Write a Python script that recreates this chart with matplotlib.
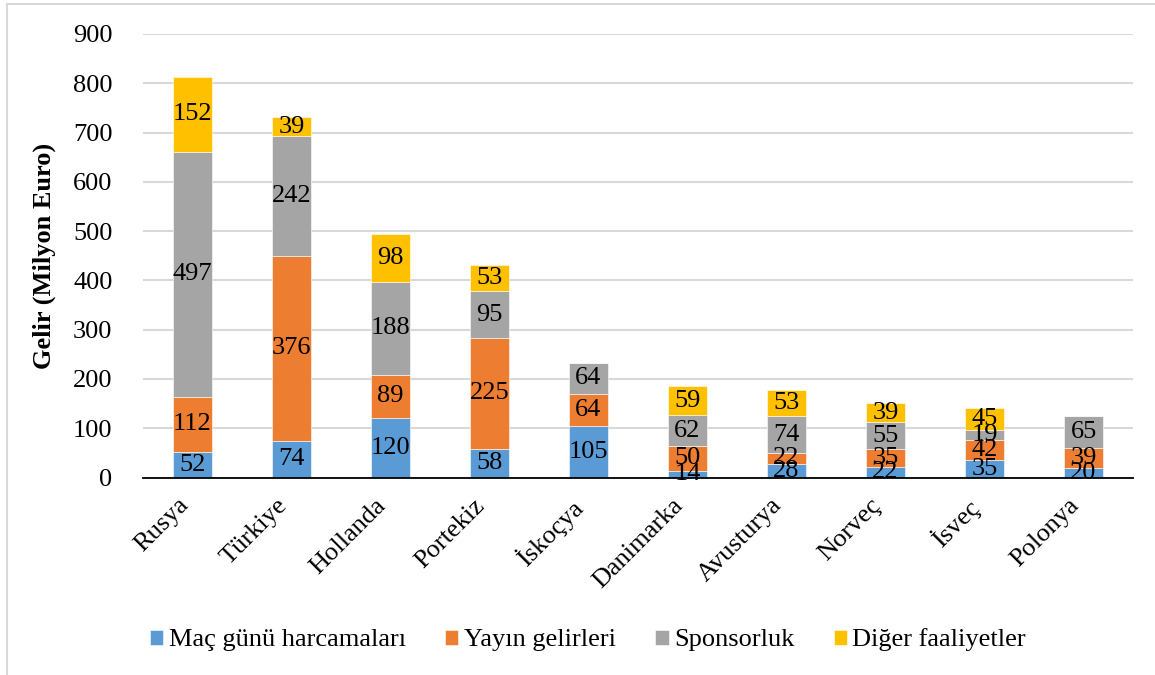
import matplotlib
matplotlib.use("Agg")
import matplotlib.pyplot as plt
import numpy as np
from matplotlib.patches import Rectangle

countries = ["Rusya", "Türkiye", "Hollanda", "Portekiz", "İskoçya",
             "Danimarka", "Avusturya", "Norveç", "İsveç", "Polonya"]
mac_gunu = [52, 74, 120, 58, 105, 14, 28, 22, 35, 20]
yayin = [112, 376, 89, 225, 64, 50, 22, 35, 42, 39]
sponsorluk = [497, 242, 188, 95, 64, 62, 74, 55, 19, 65]
diger = [152, 39, 98, 53, 0, 59, 53, 39, 45, 0]

series_names = ["Maç günü harcamaları", "Yayın gelirleri", "Sponsorluk", "Diğer faaliyetler"]
series_vals = [mac_gunu, yayin, sponsorluk, diger]
colors = ["#5B9BD5", "#ED7D31", "#A5A5A5", "#FFC000"]

yticks = [0, 100, 200, 300, 400, 500, 600, 700, 800, 900]

plt.rcParams['font.family'] = ['Liberation Serif', 'DejaVu Serif']

fig = plt.figure(figsize=(11.55, 6.75), dpi=100)
ax = fig.add_axes([143/1155, 1-477.5/675, (1133-143)/1155, (477.5-34)/675])

x = np.arange(len(countries))
bottom = np.zeros(len(countries))
fs = 19
for name, vals, c in zip(series_names, series_vals, colors):
    v = np.array(vals, dtype=float)
    ax.bar(x, v, 0.4, bottom=bottom, color=c, label=name,
           edgecolor="white", linewidth=0.4, zorder=3)
    for xi, b, h in zip(x, bottom, v):
        if h > 0:
            ax.text(xi, b + h/2, f"{int(h)}", ha="center", va="center",
                    fontsize=fs, color="black", zorder=4)
    bottom += v

ax.set_xlim(-0.5, len(countries)-0.5)
ax.set_ylim(0, 900)
ax.set_yticks(yticks)
ax.set_yticklabels([str(t) for t in yticks], fontsize=fs)
ax.set_xticks(x)
ax.set_xticklabels(countries, rotation=45, ha="right", fontsize=fs)
ax.tick_params(axis="y", length=0, pad=22)
ax.tick_params(axis="x", length=0, pad=12)
ax.grid(axis="y", color="#d9d9d9", linewidth=1.5, zorder=0)
ax.set_axisbelow(True)
for s in ["top", "right", "left"]:
    ax.spines[s].set_visible(False)
ax.spines["bottom"].set_color("black")
ax.spines["bottom"].set_linewidth(1.3)
ax.spines["bottom"].set_zorder(5)

ax.set_ylabel("Gelir (Milyon Euro)", fontsize=fs, fontweight="bold", labelpad=12)

handles, labels = ax.get_legend_handles_labels()
leg = fig.legend(handles, labels, loc="center", bbox_to_anchor=(588/1155, 1-640/675),
                 ncol=4, frameon=False, fontsize=fs, handlelength=0.5, handleheight=0.5,
                 handletextpad=0.2, columnspacing=1.5)

fig.patches.append(Rectangle((7/1155, -0.05), 1.1, 1.05 - 4/675, transform=fig.transFigure,
                             fill=False, edgecolor="#d9d9d9", linewidth=1.5))

fig.savefig("out.png", dpi=100)
